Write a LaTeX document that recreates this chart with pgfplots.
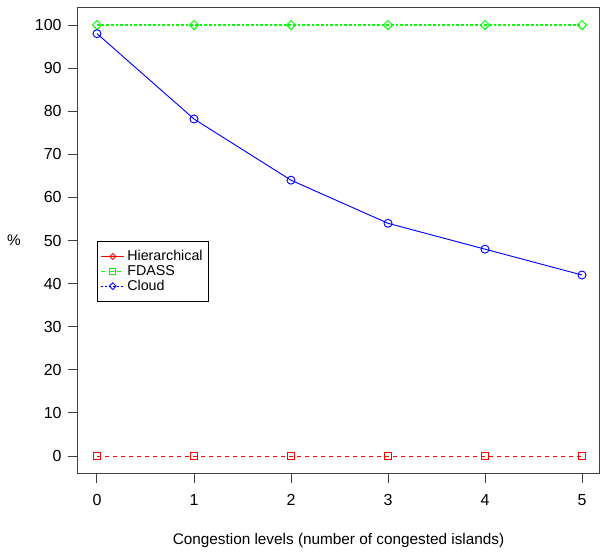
\documentclass[border=0pt]{standalone}
\usepackage{pgfplots}
\pgfplotsset{compat=1.18}
\usepackage{fontspec}
\setmainfont{Liberation Sans}
\definecolor{rred}{RGB}{255,0,0}
\definecolor{rgreen}{RGB}{0,255,0}
\definecolor{rblue}{RGB}{0,0,255}
\begin{document}
\begin{tikzpicture}
  \begin{axis}[
    scale only axis,
    width=391.4pt, height=349.1pt,
    xmin=-0.2, xmax=5.18,
    ymin=-4, ymax=104,
    xtick={0,...,5}, ytick={0,10,...,100},
    tick align=outside,
    tick pos=left,
    major tick length=7.5pt,
    tick style={black!75, line width=0.75pt},
    axis line style={black!75, line width=0.75pt},
    /pgf/number format/assume math mode=true,
    tick label style={font=\fontsize{12}{13}\selectfont},
    xticklabel style={yshift=-5pt},
    yticklabel style={xshift=-1pt},
    xlabel={Congestion levels (number of congested islands)},
    ylabel={\%},
    label style={font=\fontsize{11.5}{13}\selectfont},
    xlabel style={at={(axis description cs:0.5,-0.1435)}, anchor=center},
    ylabel style={at={(axis description cs:-0.122,0.5)}, anchor=center, rotate=-90},
    legend style={at={(axis cs:0,50)}, anchor=north west,
      font=\fontsize{10.7}{11}\selectfont, draw=black, line width=0.75pt,
      row sep=-2pt, inner xsep=2.5pt, inner ysep=5pt},
    legend cell align=left,
  ]
  % plotted series
  \addplot[rred, dashed, line width=0.7pt, mark=square, mark size=2.6pt,
    mark options={solid, rred}, forget plot]
    coordinates {(0,0) (1,0) (2,0) (3,0) (4,0) (5,0)};
  \addplot[rgreen, dash pattern=on 2pt off 1.5pt, line width=0.9pt, mark=square, mark size=2.4pt,
    mark options={solid, rgreen, line width=0.75pt, rotate=45}, forget plot]
    coordinates {(0,100) (1,100) (2,100) (3,100) (4,100) (5,100)};
  \addplot[rblue, line width=0.7pt, mark=o, mark size=3pt, mark options={rblue}, forget plot]
    coordinates {(0,98) (1,78.2) (2,64) (3,54) (4,48) (5,42)};
  % legend as drawn in the reference
  \addlegendimage{rred, line width=0.7pt, mark=square, mark size=1.6pt, mark options={rotate=45}}
  \addlegendentry{Hierarchical}
  \addlegendimage{rgreen, dashed, line width=0.8pt, mark=square, mark size=2.2pt, mark options={solid}}
  \addlegendentry{FDASS}
  \addlegendimage{rblue, dash pattern=on 1.5pt off 1.5pt, line width=0.7pt, mark=square, mark size=1.8pt, mark options={solid, rotate=45}}
  \addlegendentry{Cloud}
  \end{axis}
  \draw[black!75, line width=0.75pt] (current axis.south west) rectangle (current axis.north east);
  \path[use as bounding box] ([shift={(-58.2pt,-60.6pt)}]current axis.south west)
    rectangle ([shift={(0.4pt,5.85pt)}]current axis.north east);
\end{tikzpicture}
\end{document}
